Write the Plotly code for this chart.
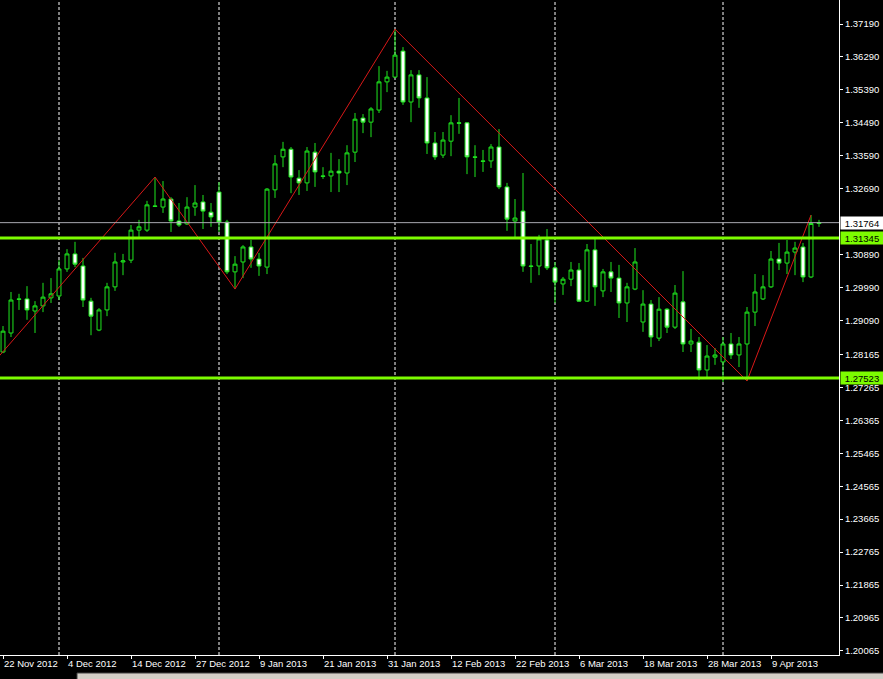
import plotly.graph_objects as go
import pandas as pd

# ---- data (EURUSD daily) ----
opens = [1.2823, 1.2875, 1.2968, 1.2968, 1.2935, 1.2949, 1.2971, 1.2976, 1.3050, 1.3091,
         1.3058, 1.2962, 1.2883, 1.2938, 1.3001, 1.3069, 1.3074, 1.3156, 1.3156, 1.3222,
         1.3219, 1.3241, 1.3181, 1.3173, 1.3219, 1.3233, 1.3205, 1.3260, 1.3178, 1.3042,
         1.3069, 1.3110, 1.3077, 1.3055, 1.3266, 1.3356, 1.3377, 1.3298, 1.3285, 1.3369,
         1.3304, 1.3304, 1.3317, 1.3312, 1.3369, 1.3462, 1.3451, 1.3484, 1.3561, 1.3574,
         1.3645, 1.3506, 1.3580, 1.3517, 1.3394, 1.3361, 1.3399, 1.3449, 1.3449, 1.3356,
         1.3345, 1.3345, 1.3383, 1.3274, 1.3181, 1.3208, 1.3058, 1.3058, 1.3129, 1.3053,
         1.3009, 1.3022, 1.3047, 1.2962, 1.3102, 1.2990, 1.3042, 1.3025, 1.2957, 1.2995,
         1.2905, 1.2954, 1.2861, 1.2940, 1.2891, 1.2960, 1.2845, 1.2850, 1.2774, 1.2809,
         1.2796, 1.2845, 1.2815, 1.2845, 1.2932, 1.2968, 1.3001, 1.3077, 1.3066, 1.3096,
         1.3110, 1.3028, 1.3174]
highs = [1.2894, 1.2987, 1.2982, 1.3003, 1.2962, 1.3012, 1.3025, 1.3074, 1.3104, 1.3124,
         1.3080, 1.2971, 1.2943, 1.3012, 1.3094, 1.3091, 1.3170, 1.3184, 1.3236, 1.3301,
         1.3290, 1.3246, 1.3230, 1.3246, 1.3279, 1.3252, 1.3230, 1.3287, 1.3184, 1.3085,
         1.3115, 1.3129, 1.3094, 1.3271, 1.3361, 1.3397, 1.3383, 1.3320, 1.3383, 1.3394,
         1.3328, 1.3367, 1.3350, 1.3388, 1.3476, 1.3473, 1.3492, 1.3604, 1.3591, 1.3705,
         1.3656, 1.3593, 1.3593, 1.3574, 1.3424, 1.3424, 1.3470, 1.3517, 1.3451, 1.3388,
         1.3375, 1.3391, 1.3432, 1.3285, 1.3241, 1.3312, 1.3118, 1.3143, 1.3159, 1.3069,
         1.3028, 1.3069, 1.3066, 1.3118, 1.3132, 1.3050, 1.3069, 1.3061, 1.3012, 1.3107,
         1.2992, 1.2965, 1.2973, 1.2943, 1.3006, 1.3044, 1.2886, 1.2864, 1.2842, 1.2834,
         1.2864, 1.2875, 1.2864, 1.2946, 1.3036, 1.3033, 1.3099, 1.3121, 1.3129, 1.3124,
         1.3121, 1.3197, 1.3184]
lows = [1.2820, 1.2864, 1.2938, 1.2911, 1.2875, 1.2932, 1.2957, 1.2965, 1.3042, 1.3055,
        1.2946, 1.2869, 1.2880, 1.2921, 1.2990, 1.3033, 1.3066, 1.3137, 1.3151, 1.3219,
        1.3203, 1.3151, 1.3165, 1.3170, 1.3195, 1.3159, 1.3165, 1.3151, 1.3036, 1.2995,
        1.3025, 1.3053, 1.3031, 1.3036, 1.3244, 1.3328, 1.3257, 1.3252, 1.3263, 1.3274,
        1.3296, 1.3260, 1.3260, 1.3279, 1.3342, 1.3421, 1.3410, 1.3476, 1.3533, 1.3572,
        1.3498, 1.3451, 1.3490, 1.3364, 1.3348, 1.3353, 1.3358, 1.3419, 1.3309, 1.3301,
        1.3315, 1.3326, 1.3268, 1.3154, 1.3137, 1.3042, 1.3012, 1.3033, 1.3047, 1.2957,
        1.2979, 1.3003, 1.2960, 1.2960, 1.2949, 1.2973, 1.2987, 1.2916, 1.2905, 1.2992,
        1.2878, 1.2837, 1.2853, 1.2875, 1.2886, 1.2823, 1.2823, 1.2747, 1.2752, 1.2788,
        1.2741, 1.2804, 1.2782, 1.2744, 1.2894, 1.2965, 1.2998, 1.3047, 1.3036, 1.3033,
        1.3014, 1.3025, 1.3165]
closes = [1.2880, 1.2965, 1.2967, 1.2938, 1.2949, 1.2973, 1.2982, 1.3050, 1.3091, 1.3063,
          1.2965, 1.2921, 1.2938, 1.3001, 1.3069, 1.3072, 1.3156, 1.3165, 1.3225, 1.3221,
          1.3241, 1.3181, 1.3170, 1.3219, 1.3230, 1.3208, 1.3192, 1.3178, 1.3042, 1.3063,
          1.3110, 1.3077, 1.3058, 1.3268, 1.3337, 1.3377, 1.3301, 1.3285, 1.3372, 1.3315,
          1.3303, 1.3317, 1.3312, 1.3367, 1.3459, 1.3451, 1.3487, 1.3561, 1.3574, 1.3634,
          1.3506, 1.3580, 1.3517, 1.3394, 1.3356, 1.3402, 1.3449, 1.3448, 1.3356, 1.3355,
          1.3344, 1.3383, 1.3274, 1.3186, 1.3189, 1.3058, 1.3057, 1.3132, 1.3053, 1.3014,
          1.3022, 1.3047, 1.2962, 1.3102, 1.3001, 1.3042, 1.3025, 1.2957, 1.3001, 1.3069,
          1.2954, 1.2864, 1.2940, 1.2891, 1.2984, 1.2845, 1.2853, 1.2774, 1.2812, 1.2815,
          1.2845, 1.2815, 1.2845, 1.2932, 1.2987, 1.3001, 1.3077, 1.3066, 1.3096, 1.3107,
          1.3028, 1.3174, 1.31764]

# ZigZag pivots (bar index, price)
zz_idx = [-1, 19, 29, 49, 93, 101]
zz_price = [1.2799, 1.3301, 1.2995, 1.3705, 1.2744, 1.3197]

# levels
current_price = 1.31764
level_hi = 1.31345
level_lo = 1.27523

# axis labels
x_tick_idx = [0, 8, 16, 24, 32, 40, 48, 56, 64, 72, 80, 88, 96]
x_tick_labels = ["22 Nov 2012", "4 Dec 2012", "14 Dec 2012", "27 Dec 2012", "9 Jan 2013",
                 "21 Jan 2013", "31 Jan 2013", "12 Feb 2013", "22 Feb 2013", "6 Mar 2013",
                 "18 Mar 2013", "28 Mar 2013", "9 Apr 2013"]
y_tick_vals = [1.37190, 1.36290, 1.35390, 1.34490, 1.33590, 1.32690, 1.30890, 1.29990,
               1.29090, 1.28165, 1.27265, 1.26365, 1.25465, 1.24565, 1.23665, 1.22765,
               1.21865, 1.20965, 1.20065]

# trading dates (for month separators)
dates = [d for d in pd.bdate_range("2012-11-22", "2013-04-17")
         if d not in (pd.Timestamp("2012-12-25"), pd.Timestamp("2013-01-01"))]
month_starts = [i for i in range(1, len(dates)) if dates[i].month != dates[i - 1].month]

x = list(range(len(opens)))

LIME = "#1EE61E"
LAWN = "#7CFC00"
FAM = "Liberation Sans, Arial, sans-serif"
FONT = dict(family=FAM, size=9.5, color="white")

fig = go.Figure()
fig.add_trace(go.Candlestick(
    x=x, open=opens, high=highs, low=lows, close=closes,
    increasing=dict(line=dict(color=LIME, width=1), fillcolor="black"),
    decreasing=dict(line=dict(color=LIME, width=1), fillcolor="white"),
    whiskerwidth=0, showlegend=False, hoverinfo="skip",
))
fig.add_trace(go.Scatter(
    x=zz_idx, y=zz_price, mode="lines",
    line=dict(color="#D81818", width=1), showlegend=False, hoverinfo="skip",
))

shapes = []
for m in month_starts:
    shapes.append(dict(type="line", xref="x", yref="paper", x0=m, x1=m, y0=0, y1=1,
                       line=dict(color="white", width=1, dash="3px,2px"), layer="below"))
shapes.append(dict(type="line", xref="paper", yref="y", x0=0, x1=1,
                   y0=current_price, y1=current_price,
                   line=dict(color="#A8A8B0", width=1), layer="above"))
for lv in (level_hi, level_lo):
    shapes.append(dict(type="line", xref="paper", yref="y", x0=0, x1=1, y0=lv, y1=lv,
                       line=dict(color=LAWN, width=3), layer="above"))
# window strip at the very bottom
shapes.append(dict(type="rect", xref="paper", yref="paper", x0=77 / 839, x1=1.06,
                   y0=-0.0380, y1=-0.0275, fillcolor="#D4D0C8",
                   line=dict(color="#404040", width=1), layer="above"))

annotations = []
for val, bg in ((current_price, "white"), (level_hi, LAWN), (level_lo, LAWN)):
    annotations.append(dict(
        xref="paper", yref="y", x=1, y=val, xanchor="left", yanchor="middle",
        text=f"{val:.5f}", showarrow=False, bgcolor=bg, xshift=1,
        font=dict(family=FAM, size=9.5, color="black"),
        width=42, height=12, borderpad=0, align="center",
    ))

fig.update_layout(
    width=883, height=679,
    margin=dict(l=0, r=44, t=0, b=24, autoexpand=False),
    paper_bgcolor="black", plot_bgcolor="black",
    font=FONT,
    shapes=shapes, annotations=annotations,
    xaxis=dict(
        range=[-0.375, 104.5], rangeslider=dict(visible=False),
        tickmode="array", tickvals=x_tick_idx, ticktext=x_tick_labels,
        ticks="outside", ticklen=3, tickcolor="white", tickangle=0,
        ticklabelposition="outside right", automargin=False,
        showgrid=False, zeroline=False,
        showline=True, linecolor="white", linewidth=1,
        tickfont=FONT,
    ),
    yaxis=dict(
        side="right", range=[1.19954, 1.37846],
        tickmode="array", tickvals=y_tick_vals, ticktext=[f"{v:.5f}" for v in y_tick_vals],
        ticks="outside", ticklen=3, tickcolor="white", automargin=False,
        showgrid=False, zeroline=False,
        showline=True, linecolor="white", linewidth=1,
        tickfont=FONT,
    ),
)

fig.write_html("out.html", config={"displayModeBar": False},
               post_script="document.body.style.margin='0';document.body.style.overflow='hidden';")
